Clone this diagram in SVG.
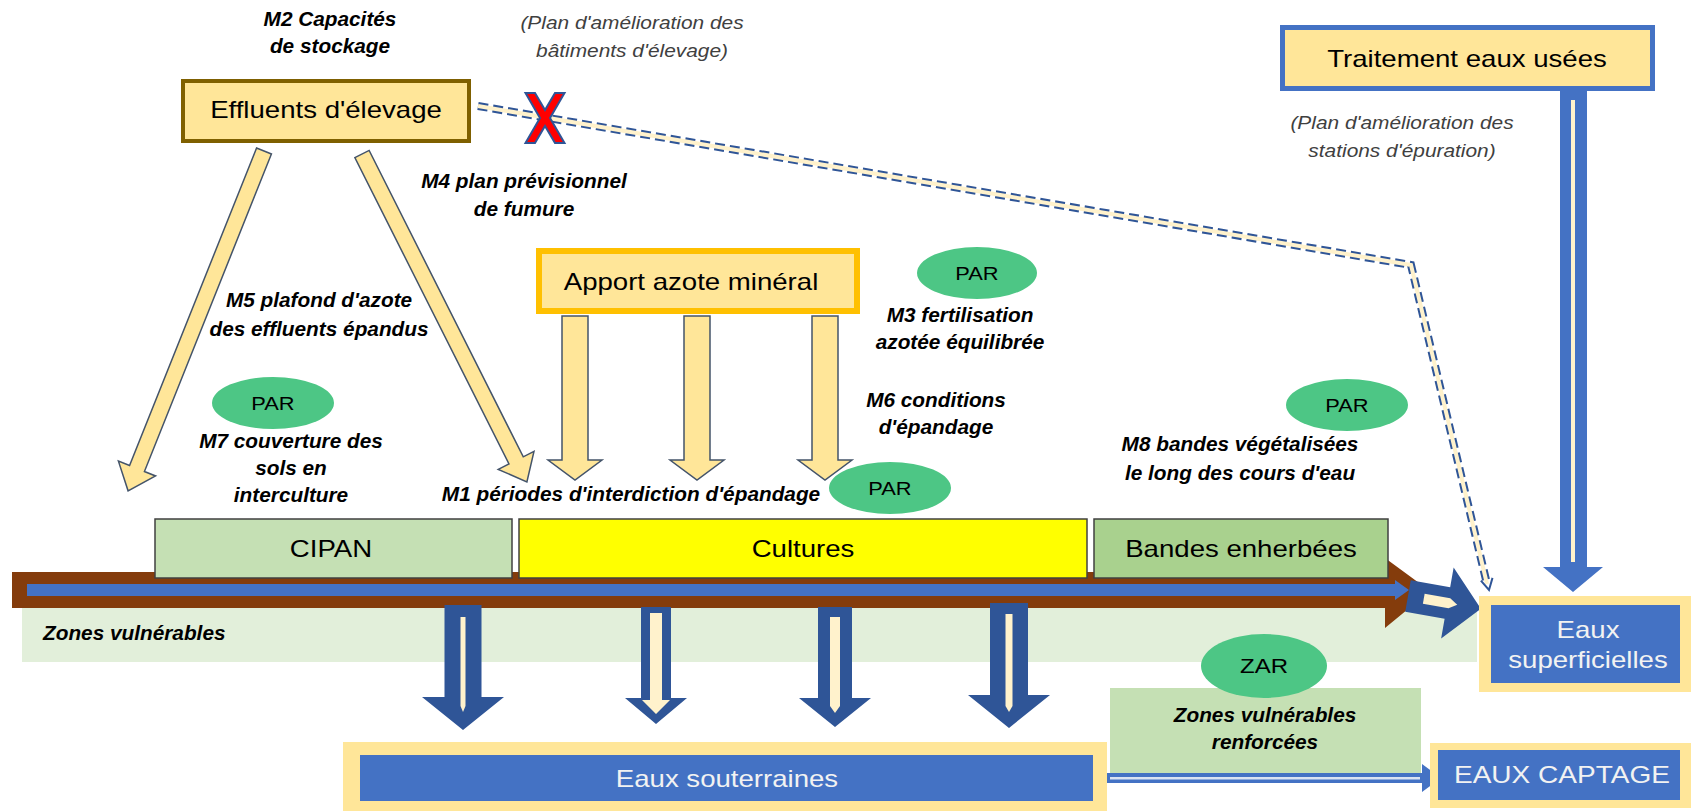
<svg xmlns="http://www.w3.org/2000/svg" width="1691" height="811" viewBox="0 0 1691 811">
<style>
text{font-family:"Liberation Sans",Arial,sans-serif;text-anchor:middle}
.lbl{font-size:20px;font-weight:bold;font-style:italic;fill:#000}
.note{font-size:18px;font-style:italic;fill:#404040}
.txt{font-size:23px;fill:#000}
.wt{font-size:23px;fill:#f2f2f2}
.par{font-size:19px;fill:#000}
.ell{fill:#4dc685}
.yarrow{fill:#ffe699;stroke:#44546a;stroke-width:1.5;stroke-linejoin:miter}
.narrow{fill:#2f5597}
.cream{fill:#fff2cc}
.strip{stroke:#404040;stroke-width:1.5}
</style>
<rect width="1691" height="811" fill="#ffffff"/>

<g id="zones-vulnerables">
<rect x="22" y="608" width="1455" height="54" fill="#e2efda"/>
<text class="lbl" transform="translate(43 640) scale(1.04 1)" style="text-anchor:start">Zones vulnérables</text>
</g>

<g id="zvr">
<rect x="1110" y="688" width="311" height="85" fill="#c5e0b4"/>
<text class="lbl" transform="translate(1265 722) scale(1.04 1)">Zones vulnérables</text>
<text class="lbl" transform="translate(1265 749) scale(1.04 1)">renforcées</text>
</g>

<g id="connectors">
<polygon points="12,572 1385,572 1385,558 1430,591 1385,628 1385,608 12,608" fill="#843c0c"/>
<polygon points="27,584 1395,584 1395,580 1409,590 1395,600 1395,596 27,596" fill="#4472c4"/>
<g transform="translate(1408 596) rotate(10)">
<polygon class="narrow" points="0,-16 40,-16 40,-36 74,0 40,36 40,16 0,16"/>
<polygon class="cream" points="16,-5 42,-5 50,0 42,5 16,5"/>
</g>
<polygon class="yarrow" transform="translate(264 151) rotate(21.8)" points="-8,0 8,0 8,342 20,342 0,366 -20,342 -8,342"/>
<polygon class="yarrow" transform="translate(362 154) rotate(-26.7)" points="-8,0 8,0 8,343 20,343 0,367 -20,343 -8,343"/>
<polygon class="yarrow" points="562,316 588,316 588,460 602,460 575,480 548,460 562,460"/>
<polygon class="yarrow" points="684,316 710,316 710,460 724,460 697,480 670,460 684,460"/>
<polygon class="yarrow" points="812,316 838,316 838,460 852,460 825,480 798,460 812,460"/>
<polygon class="narrow" points="444.5,605 481.5,605 481.5,697 504,697 463,730 422,697 444.5,697"/>
<polygon class="cream" points="460.5,617 465.5,617 465.5,706 463,712 460.5,706"/>
<polygon class="narrow" points="641,607 671,607 671,698 687,698 656,724 625,698 641,698"/>
<polygon class="cream" points="650,613 662,613 662,700 670,700 656,714 642,700 650,700"/>
<polygon class="narrow" points="818,607 852,607 852,698 871,698 835,727 799,698 818,698"/>
<polygon class="cream" points="830,617 840,617 840,706 835,713 830,706"/>
<polygon class="narrow" points="990,603 1028,603 1028,695 1050,695 1009,728 968,695 990,695"/>
<polygon class="cream" points="1005.5,614 1012.5,614 1012.5,706 1009,712 1005.5,706"/>
<polygon points="1560,91 1587,91 1587,567 1603,567 1573,592 1543,567 1560,567" fill="#4472c4"/>
<rect x="1571" y="100" width="4" height="462" fill="#fff2cc"/>
<polygon points="1107,773 1422,773 1422,764 1441,778 1422,792 1422,783 1107,783" fill="#4472c4"/>
<rect x="1110" y="777" width="310" height="2.5" fill="#dae3f3"/>
<polyline points="478,106 1411,265 1487,584" fill="none" stroke="#2f5597" stroke-width="8" stroke-dasharray="10 5"/>
<polyline points="478,106 1411,265 1487,584" fill="none" stroke="#fff2cc" stroke-width="4"/>
<polyline points="1480.9,580.7 1489,590 1492.5,577.9" fill="none" stroke="#2f5597" stroke-width="2"/>
</g>

<g id="x-mark">
<polygon transform="translate(545 118)" points="-19.5,-25 -10,-25 0,-8 10,-25 19.5,-25 5,0 19.5,25 10,25 0,8 -10,25 -19.5,25 -5,0" fill="#ff0000" stroke="#2f5597" stroke-width="2"/>
</g>

<g id="cipan">
<rect class="strip" x="155" y="519" width="357" height="59" fill="#c5e0b4"/>
<text class="txt" transform="translate(331 557) scale(1.2 1)">CIPAN</text>
</g>
<g id="cultures">
<rect class="strip" x="519" y="519" width="568" height="59" fill="#ffff00"/>
<text class="txt" transform="translate(803 557) scale(1.2 1)">Cultures</text>
</g>
<g id="bandes-enherbees">
<rect class="strip" x="1094" y="519" width="294" height="59" fill="#a9d18e"/>
<text class="txt" transform="translate(1241 557) scale(1.2 1)">Bandes enherbées</text>
</g>

<g id="effluents">
<rect x="183" y="81" width="286" height="60" fill="#ffe699" stroke="#7f6000" stroke-width="4"/>
<text class="txt" transform="translate(326 118) scale(1.2 1)">Effluents d'élevage</text>
</g>
<g id="apport">
<rect x="539" y="251" width="318" height="60" fill="#ffe699" stroke="#ffc000" stroke-width="6"/>
<text class="txt" transform="translate(691 290) scale(1.2 1)">Apport azote minéral</text>
</g>
<g id="traitement">
<rect x="1282.5" y="27.5" width="370" height="61" fill="#ffe699" stroke="#4472c4" stroke-width="5"/>
<text class="txt" transform="translate(1467 67) scale(1.2 1)">Traitement eaux usées</text>
</g>

<g id="eaux-souterraines">
<rect x="343" y="742" width="764" height="75" fill="#ffe699"/>
<rect x="360" y="755" width="733" height="46" fill="#4472c4"/>
<text class="wt" transform="translate(727 787) scale(1.2 1)">Eaux souterraines</text>
</g>
<g id="eaux-captage">
<rect x="1430" y="743" width="270" height="65" fill="#ffe699"/>
<rect x="1438" y="750" width="242" height="50" fill="#4472c4"/>
<text class="wt" transform="translate(1562 783) scale(1.22 1)">EAUX CAPTAGE</text>
</g>
<g id="eaux-superficielles">
<rect x="1479" y="596" width="220" height="96" fill="#ffe699"/>
<rect x="1491" y="605" width="189" height="78" fill="#4472c4"/>
<text class="wt" transform="translate(1588 638) scale(1.2 1)">Eaux</text>
<text class="wt" transform="translate(1588 668) scale(1.2 1)">superficielles</text>
</g>

<g id="zar">
<ellipse class="ell" cx="1264" cy="666" rx="63" ry="32"/>
<text class="par" style="font-size:20px" transform="translate(1264 673) scale(1.2 1)">ZAR</text>
</g>
<g id="par-m3">
<ellipse class="ell" cx="977" cy="273" rx="60" ry="26"/>
<text class="par" transform="translate(977 280) scale(1.15 1)">PAR</text>
</g>
<g id="par-m1">
<ellipse class="ell" cx="890" cy="488" rx="61" ry="26"/>
<text class="par" transform="translate(890 495) scale(1.15 1)">PAR</text>
</g>
<g id="par-m8">
<ellipse class="ell" cx="1347" cy="405" rx="61" ry="26"/>
<text class="par" transform="translate(1347 412) scale(1.15 1)">PAR</text>
</g>
<g id="par-m7">
<ellipse class="ell" cx="273" cy="403" rx="61" ry="26"/>
<text class="par" transform="translate(273 410) scale(1.15 1)">PAR</text>
</g>

<g id="labels">
<text class="lbl" transform="translate(330 26) scale(1.04 1)">M2 Capacités</text>
<text class="lbl" transform="translate(330 53) scale(1.04 1)">de stockage</text>
<text class="note" transform="translate(632 29) scale(1.16 1)">(Plan d'amélioration des</text>
<text class="note" transform="translate(632 57) scale(1.16 1)">bâtiments d'élevage)</text>
<text class="note" transform="translate(1402 129) scale(1.16 1)">(Plan d'amélioration des</text>
<text class="note" transform="translate(1402 157) scale(1.16 1)">stations d'épuration)</text>
<text class="lbl" transform="translate(524 188) scale(1.04 1)">M4 plan prévisionnel</text>
<text class="lbl" transform="translate(524 216) scale(1.04 1)">de fumure</text>
<text class="lbl" transform="translate(319 307) scale(1.04 1)">M5 plafond d'azote</text>
<text class="lbl" transform="translate(319 336) scale(1.04 1)">des effluents épandus</text>
<text class="lbl" transform="translate(960 322) scale(1.04 1)">M3 fertilisation</text>
<text class="lbl" transform="translate(960 349) scale(1.04 1)">azotée équilibrée</text>
<text class="lbl" transform="translate(936 407) scale(1.04 1)">M6 conditions</text>
<text class="lbl" transform="translate(936 434) scale(1.04 1)">d'épandage</text>
<text class="lbl" transform="translate(291 448) scale(1.04 1)">M7 couverture des</text>
<text class="lbl" transform="translate(291 475) scale(1.04 1)">sols en</text>
<text class="lbl" transform="translate(291 502) scale(1.04 1)">interculture</text>
<text class="lbl" transform="translate(631 501) scale(1.04 1)">M1 périodes d'interdiction d'épandage</text>
<text class="lbl" transform="translate(1240 451) scale(1.04 1)">M8 bandes végétalisées</text>
<text class="lbl" transform="translate(1240 480) scale(1.04 1)">le long des cours d'eau</text>
</g>
</svg>
